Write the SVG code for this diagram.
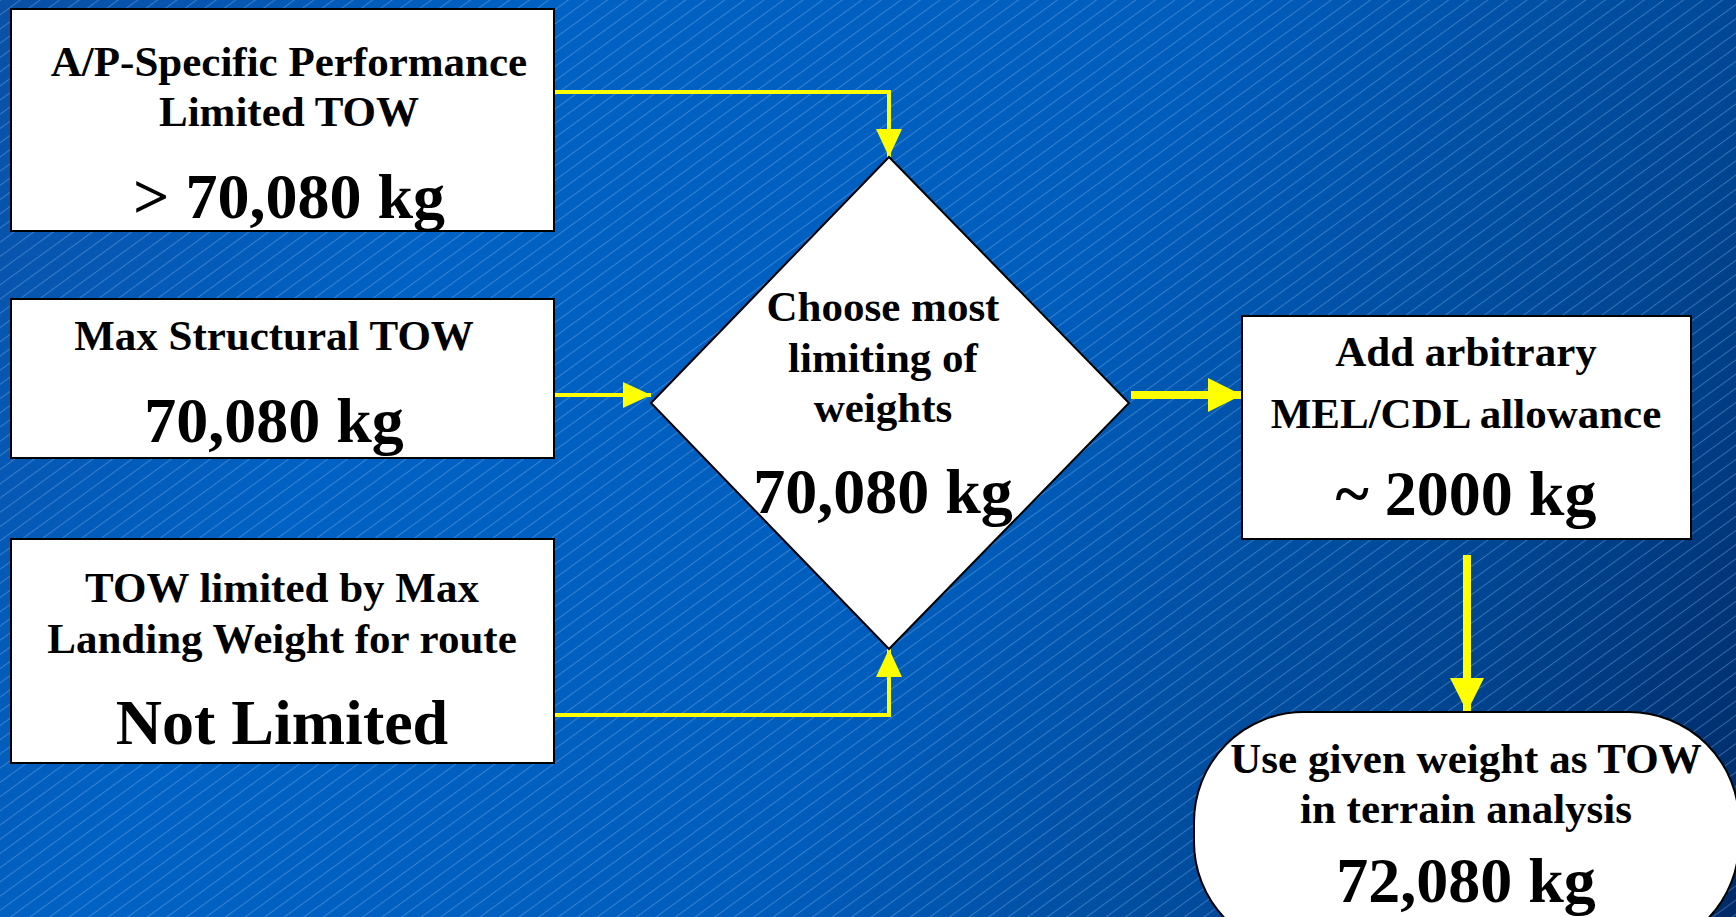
<svg xmlns="http://www.w3.org/2000/svg" width="1736" height="917" viewBox="0 0 1736 917">
<defs>
<linearGradient id="bg" x1="0" y1="0" x2="1736" y2="917" gradientUnits="userSpaceOnUse">
<stop offset="0" stop-color="#0a50a6"/>
<stop offset="0.25" stop-color="#0062c4"/>
<stop offset="0.55" stop-color="#005dbc"/>
<stop offset="0.8" stop-color="#004794"/>
<stop offset="1" stop-color="#002a66"/>
</linearGradient>
<pattern id="stripes" patternUnits="userSpaceOnUse" width="20" height="11.5" patternTransform="rotate(-36)">
<line x1="0" y1="0.5" x2="20" y2="0.5" stroke="#8cbcf2" stroke-width="1" stroke-opacity="0.38"/>
</pattern>
<marker id="ah" viewBox="0 0 28 26" refX="28" refY="13" markerWidth="28" markerHeight="26" markerUnits="userSpaceOnUse" orient="auto">
<path d="M0,0 L28,13 L0,26 Z" fill="#ffff00"/>
</marker>
<marker id="ahb" viewBox="0 0 34 34" refX="34" refY="17" markerWidth="34" markerHeight="34" markerUnits="userSpaceOnUse" orient="auto">
<path d="M0,0 L34,17 L0,34 Z" fill="#ffff00"/>
</marker>
<style>
.box{fill:#ffffff;stroke:#000000;stroke-width:2}
.t{font-family:"Liberation Serif","Times New Roman",serif;font-weight:bold;fill:#000000;text-anchor:middle}
.s{font-size:43px}
.b{font-size:64px}
.c{fill:none;stroke:#ffff00;stroke-width:4}
.cb{fill:none;stroke:#ffff00;stroke-width:8}
</style>
</defs>
<rect x="0" y="0" width="1736" height="917" fill="url(#bg)"/>
<rect x="0" y="0" width="1736" height="917" fill="url(#stripes)"/>

<g id="connectors">
<path class="c" d="M554,92 L889,92 L889,157" marker-end="url(#ah)"/>
<path class="c" d="M554,395 L651,395" marker-end="url(#ah)"/>
<path class="c" d="M554,715 L889,715 L889,649" marker-end="url(#ah)"/>
<path class="cb" d="M1131,395 L1242,395" marker-end="url(#ahb)"/>
<path class="cb" d="M1467,555 L1467,712" marker-end="url(#ahb)"/>
</g>

<g id="node-ap">
<rect class="box" x="11" y="9" width="543" height="222"/>
<text class="t s" x="289" y="76">A/P-Specific Performance</text>
<text class="t s" x="289" y="126">Limited TOW</text>
<text class="t b" x="289" y="218">&gt; 70,080 kg</text>
</g>

<g id="node-structural">
<rect class="box" x="11" y="299" width="543" height="159"/>
<text class="t s" x="274" y="350">Max Structural TOW</text>
<text class="t b" x="274" y="442">70,080 kg</text>
</g>

<g id="node-landing">
<rect class="box" x="11" y="539" width="543" height="224"/>
<text class="t s" x="282" y="602">TOW limited by Max</text>
<text class="t s" x="282" y="653">Landing Weight for route</text>
<text class="t b" x="282" y="744">Not Limited</text>
</g>

<g id="node-choose">
<polygon class="box" points="651,403 889,157 1129,403 889,649"/>
<text class="t s" x="883" y="321">Choose most</text>
<text class="t s" x="883" y="372">limiting of</text>
<text class="t s" x="883" y="422">weights</text>
<text class="t b" x="883" y="513">70,080 kg</text>
</g>

<g id="node-mel">
<rect class="box" x="1242" y="316" width="449" height="223"/>
<text class="t s" x="1466" y="366">Add arbitrary</text>
<text class="t s" x="1466" y="428">MEL/CDL allowance</text>
<text class="t b" x="1466" y="515">~ 2000 kg</text>
</g>

<g id="node-use">
<rect class="box" x="1194" y="712" width="545" height="240" rx="110" ry="110"/>
<text class="t s" x="1466" y="773">Use given weight as TOW</text>
<text class="t s" x="1466" y="823">in terrain analysis</text>
<text class="t b" x="1466" y="902">72,080 kg</text>
</g>
</svg>
